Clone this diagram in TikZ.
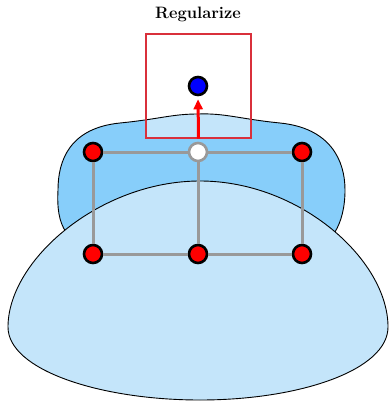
\documentclass[tikz,border=0pt]{standalone}
\usepackage{fontspec}
\usetikzlibrary{arrows.meta}
\definecolor{backblue}{HTML}{87CEFA}
\definecolor{frontblue}{HTML}{C4E5FA}
\definecolor{gridgray}{HTML}{999999}
\definecolor{boxred}{HTML}{D9303B}
\tikzset{
  ctrl/.style={circle, draw=black, fill=red, line width=2.6pt, minimum size=18pt, inner sep=0pt},
  freept/.style={ctrl, draw=gridgray, fill=white},
  goalpt/.style={ctrl, fill=blue},
  window/.style={draw=boxred, line width=1.1pt, minimum width=105pt, minimum height=104pt, inner sep=0pt},
  edge/.style={gridgray, line width=3pt},
  push/.style={-{Triangle[length=10pt,width=9pt]}, red, line width=3pt},
  blob/.style={draw=black, line width=0.9pt},
}
\newcommand{\backblob}{(198,114) .. controls (225,113) and (240,119) .. (280,123)
  .. controls (330,128) and (345,160) .. (345,190)
  .. controls (345,208) and (341,222) .. (335,232)
  -- (318,250) -- (82,250) -- (66,232)
  .. controls (59,222) and (57,208) .. (58,190)
  .. controls (58,160) and (70,128) .. (120,123)
  .. controls (160,119) and (172,114) .. (198,114) -- cycle}

\begin{document}
\begin{tikzpicture}[x=1pt, y=-1pt]
  \useasboundingbox (0,0) rectangle (390,401);
  % back region, lighter where the window covers it
  \fill[backblue] \backblob;
  \begin{scope}
    \clip (146,34) rectangle (251,138);
    \fill[frontblue] \backblob;
  \end{scope}
  \draw[blob] \backblob;
  % front region
  \draw[blob, fill=frontblue] (200,181) .. controls (300,181) and (388,260) .. (388,327)
    .. controls (388,370) and (300,400) .. (200,400)
    .. controls (100,400) and (8,370) .. (8,327)
    .. controls (8,260) and (100,181) .. (200,181) -- cycle;

  \node[font=\fontsize{16.5}{19}\selectfont\bfseries] (title) at (198,14) {Regularize};
  \node[window] (win) at (198.5,86) {};

  \node[ctrl] (tl) at (93,152) {};
  \node[freept] (tm) at (198,152) {};
  \node[ctrl] (tr) at (302,152) {};
  \node[ctrl] (bl) at (93,254) {};
  \node[ctrl] (bm) at (198,254) {};
  \node[ctrl] (br) at (302,254) {};
  \node[goalpt] (goal) at (198,86) {};

  \draw[edge] (tl) -- (tm);
  \draw[edge] (tm) -- (tr);
  \draw[edge] (bl) -- (bm);
  \draw[edge] (bm) -- (br);
  \draw[edge] (tl) -- (bl);
  \draw[edge] (tm) -- (bm);
  \draw[edge] (tr) -- (br);

  \draw[push, shorten >=3pt] (win.south) -- (goal.south);
\end{tikzpicture}
\end{document}
